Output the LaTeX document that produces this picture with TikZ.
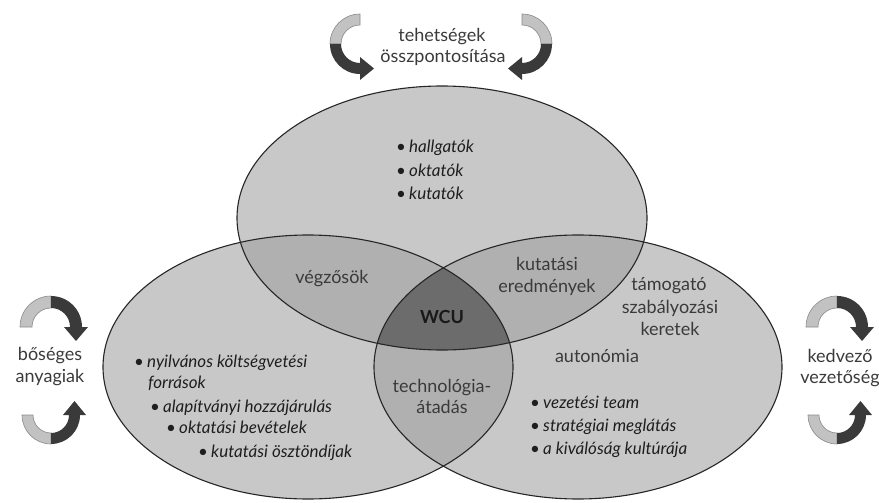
\documentclass[tikz,border=0pt]{standalone}
\usepackage{fontspec}
\setmainfont{Lato}
\usetikzlibrary{calc}
\definecolor{singlefill}{HTML}{C8C8C8}
\definecolor{pairfill}{HTML}{B0B0B0}
\definecolor{triplefill}{HTML}{6C6C6C}
\definecolor{ribgray}{HTML}{C2C2C2}
\definecolor{ribedge}{HTML}{8A8A8A}
\definecolor{ribdark}{HTML}{3A3A3A}
\definecolor{labeltext}{HTML}{3A3A3A}
\definecolor{listtext}{HTML}{1E1E1E}
\newcommand\topE{(442,218) ellipse [x radius=205, y radius=132]}
\newcommand\leftE{(308,367) ellipse [x radius=205, y radius=132]}
\newcommand\rightE{(578,367) ellipse [x radius=204, y radius=132]}
\newcommand\bul{\makebox[13pt][l]{\upshape•}}
% #1 cx, #2 cy, #3 outer radius, #4 width, #5 start, #6 split, #7 end angle, #8 sweep sign
\newcommand\ribbonarrow[8]{%
  \pgfmathsetmacro\rin{#3-#4}%
  \pgfmathsetmacro\rmid{#3-#4/2}%
  \pgfmathsetmacro\rout{#3+6}%
  \pgfmathsetmacro\rinh{#3-#4-6}%
  \pgfmathsetmacro\tang{#7+#8*90}%
  \filldraw[fill=ribgray, draw=ribedge, line width=0.6pt]
    ($(#1,#2)+(#5:#3)$) arc[start angle=#5, end angle=#6, radius=#3]
    -- ($(#1,#2)+(#6:\rin)$) arc[start angle=#6, end angle=#5, radius=\rin] -- cycle;
  \fill[ribdark]
    ($(#1,#2)+(#6:#3)$) arc[start angle=#6, end angle=#7, radius=#3]
    -- ($(#1,#2)+(#7:\rout)$)
    -- ($(#1,#2)+(#7:\rmid)+(\tang:14)$)
    -- ($(#1,#2)+(#7:\rinh)$)
    -- ($(#1,#2)+(#7:\rin)$) arc[start angle=#7, end angle=#6, radius=\rin] -- cycle;
}
\begin{document}
\begin{tikzpicture}[x=1pt,y=-1pt,
  lbl/.style={font=\fontsize{18}{21}\selectfont, text=labeltext, inner sep=0pt, anchor=base},
  itm/.style={font=\fontsize{17}{20}\selectfont\itshape, text=listtext, inner sep=0pt, anchor=base west},
  outline/.style={draw=black!85, line width=1.1pt}]
\useasboundingbox (0,0) rectangle (879,503);
% Venn regions
\fill[singlefill] \topE;
\fill[singlefill] \leftE;
\fill[singlefill] \rightE;
\begin{scope}
  \clip \topE;
  \fill[pairfill] \leftE;
  \fill[pairfill] \rightE;
\end{scope}
\begin{scope}
  \clip \leftE;
  \fill[pairfill] \rightE;
\end{scope}
\begin{scope}
  \clip \topE;
  \clip \leftE;
  \fill[triplefill] \rightE;
\end{scope}
\draw[outline] \topE;
\draw[outline] \leftE;
\draw[outline] \rightE;
% curved arrows
\ribbonarrow{360}{44}{30}{11}{270}{180}{90}{-1}
\ribbonarrow{522}{44}{30}{11}{270}{360}{450}{1}
\ribbonarrow{51}{327}{31}{12}{180}{270}{360}{1}
\ribbonarrow{51}{415}{29}{11}{180}{90}{0}{-1}
\ribbonarrow{837}{327}{31}{12}{180}{270}{360}{1}
\ribbonarrow{837}{415}{29}{11}{180}{90}{0}{-1}
% outer labels
\node[lbl] (title1) at (442,42) {tehetségek};
\node[lbl] (title2) at (443,63) {összpontosítása};
\node[lbl] (money1) at (50,360) {bőséges};
\node[lbl] (money2) at (50,382) {anyagiak};
\node[lbl] (lead1) at (840,362) {kedvező};
\node[lbl] (lead2) at (840,383) {vezetőség};
% top ellipse list
\node[itm] (top1) at (396,153) {\bul hallgatók};
\node[itm] (top2) at (396,176) {\bul oktatók};
\node[itm] (top3) at (396,199) {\bul kutatók};
% overlaps
\node[lbl] (grad) at (332,283) {végzősök};
\node[lbl] (res1) at (547,270) {kutatási};
\node[lbl] (res2) at (547,292) {eredmények};
\node[lbl, font=\fontsize{18}{20}\selectfont\bfseries, text=black!90] (wcu) at (442,323) {WCU};
\node[lbl] (tech1) at (442,392) {technológia-};
\node[lbl] (tech2) at (442,413) {átadás};
% right ellipse
\node[lbl] (reg1) at (669,290) {támogató};
\node[lbl] (reg2) at (670,313) {szabályozási};
\node[lbl] (reg3) at (670,335) {keretek};
\node[lbl] (auto) at (597,362) {autonómia};
\node[itm] (rl1) at (530,408) {\bul vezetési team};
\node[itm] (rl2) at (530,431) {\bul stratégiai meglátás};
\node[itm] (rl3) at (530,454) {\bul a kiválóság kultúrája};
% left ellipse list
\node[itm] (ll1) at (134,367) {\bul nyilvános költségvetési};
\node[itm] (ll1b) at (148,388) {források};
\node[itm] (ll2) at (150,412) {\bul alapítványi hozzájárulás};
\node[itm] (ll3) at (166,433) {\bul oktatási bevételek};
\node[itm] (ll4) at (198,457) {\bul kutatási ösztöndíjak};
\end{tikzpicture}
\end{document}
